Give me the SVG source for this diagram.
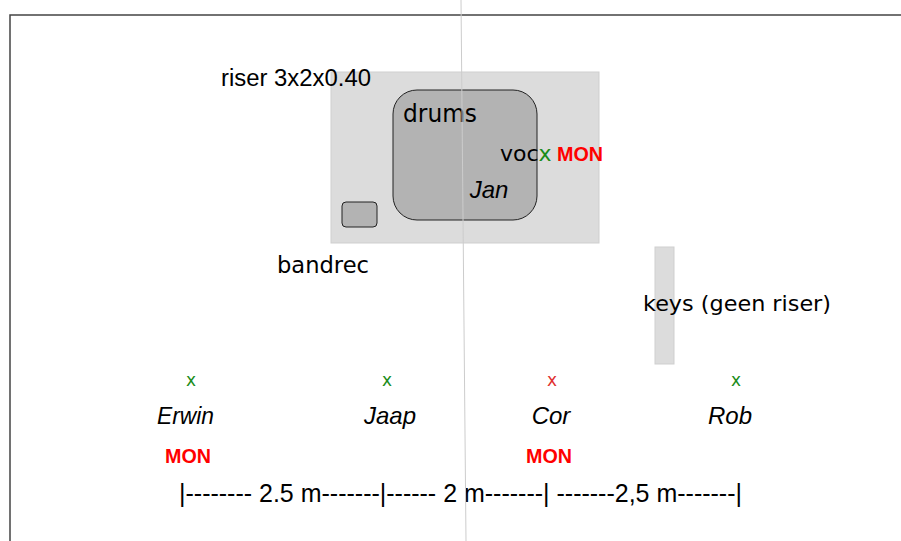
<svg xmlns="http://www.w3.org/2000/svg" width="901" height="541" viewBox="0 0 901 541">
  <style>
    .sans { font-family: "DejaVu Sans", "Liberation Sans", sans-serif; fill: #000; }
    .ar { font-family: "Liberation Sans", Arial, sans-serif; fill: #000; }
    .name { font-family: "Liberation Sans", Arial, sans-serif; font-style: italic; font-size: 24px; fill: #000; text-anchor: middle; }
    .mon { font-family: "Liberation Sans", Arial, sans-serif; font-weight: bold; font-size: 20px; fill: #ff0000; }
    .xg { font-family: "DejaVu Sans", sans-serif; font-size: 17px; fill: #1a8c1a; text-anchor: middle; }
    .xr { font-family: "DejaVu Sans", sans-serif; font-size: 17px; fill: #e03030; text-anchor: middle; }
    .riser { fill: #dcdcdc; stroke: #cfcfcf; stroke-width: 1; }
    .kit { fill: #b3b3b3; stroke: #222; stroke-width: 1; }
  </style>
  <rect width="901" height="541" fill="#fff"/>
  <g id="frame">
    <path d="M10 541 V15 H901" fill="none" stroke="#444" stroke-width="1.5"/>
  </g>
  <g id="riser">
    <rect class="riser" x="331" y="72" width="268" height="171"/>
    <text class="ar" x="221" y="86" font-size="23" textLength="150" lengthAdjust="spacingAndGlyphs">riser 3x2x0.40</text>
  </g>
  <g id="drums">
    <rect class="kit" x="393" y="90" width="144" height="130" rx="24" ry="24"/>
    <text class="sans" x="403" y="122" font-size="24" textLength="74" lengthAdjust="spacingAndGlyphs">drums</text>
    <text class="name" x="489" y="198">Jan</text>
  </g>
  <g id="voc">
    <text class="sans" x="500" y="161" font-size="22">voc<tspan fill="#1a8c1a">x</tspan></text>
    <text class="mon" x="557" y="161" textLength="46" lengthAdjust="spacingAndGlyphs">MON</text>
  </g>
  <g id="bandrec">
    <rect class="kit" x="342" y="202" width="35" height="25" rx="4" ry="4"/>
    <text class="sans" x="277" y="273" font-size="23" textLength="92" lengthAdjust="spacingAndGlyphs">bandrec</text>
  </g>
  <g id="keys">
    <rect class="riser" x="655" y="247" width="19" height="117"/>
    <text class="sans" x="643" y="311" font-size="22" textLength="188" lengthAdjust="spacingAndGlyphs">keys (geen riser)</text>
  </g>
  <g id="erwin">
    <text class="xg" x="191" y="386">x</text>
    <text class="name" x="185.5" y="424" textLength="57" lengthAdjust="spacingAndGlyphs">Erwin</text>
    <text class="mon" x="188" y="463" text-anchor="middle" textLength="46" lengthAdjust="spacingAndGlyphs">MON</text>
  </g>
  <g id="jaap">
    <text class="xg" x="387" y="386">x</text>
    <text class="name" x="390" y="424">Jaap</text>
  </g>
  <g id="cor">
    <text class="xr" x="552" y="386">x</text>
    <text class="name" x="551" y="424">Cor</text>
    <text class="mon" x="549" y="463" text-anchor="middle" textLength="46" lengthAdjust="spacingAndGlyphs">MON</text>
  </g>
  <g id="rob">
    <text class="xg" x="736" y="386">x</text>
    <text class="name" x="730" y="424">Rob</text>
  </g>
  <g id="ruler">
    <text class="ar" x="179" y="502" font-size="25" textLength="563" lengthAdjust="spacingAndGlyphs">|-------- 2.5 m-------|------ 2 m-------|  -------2,5 m-------|</text>
  </g>
  <g id="connectors">
    <line x1="461" y1="0" x2="466" y2="541" stroke="#cccccc" stroke-width="1"/>
  </g>
</svg>
